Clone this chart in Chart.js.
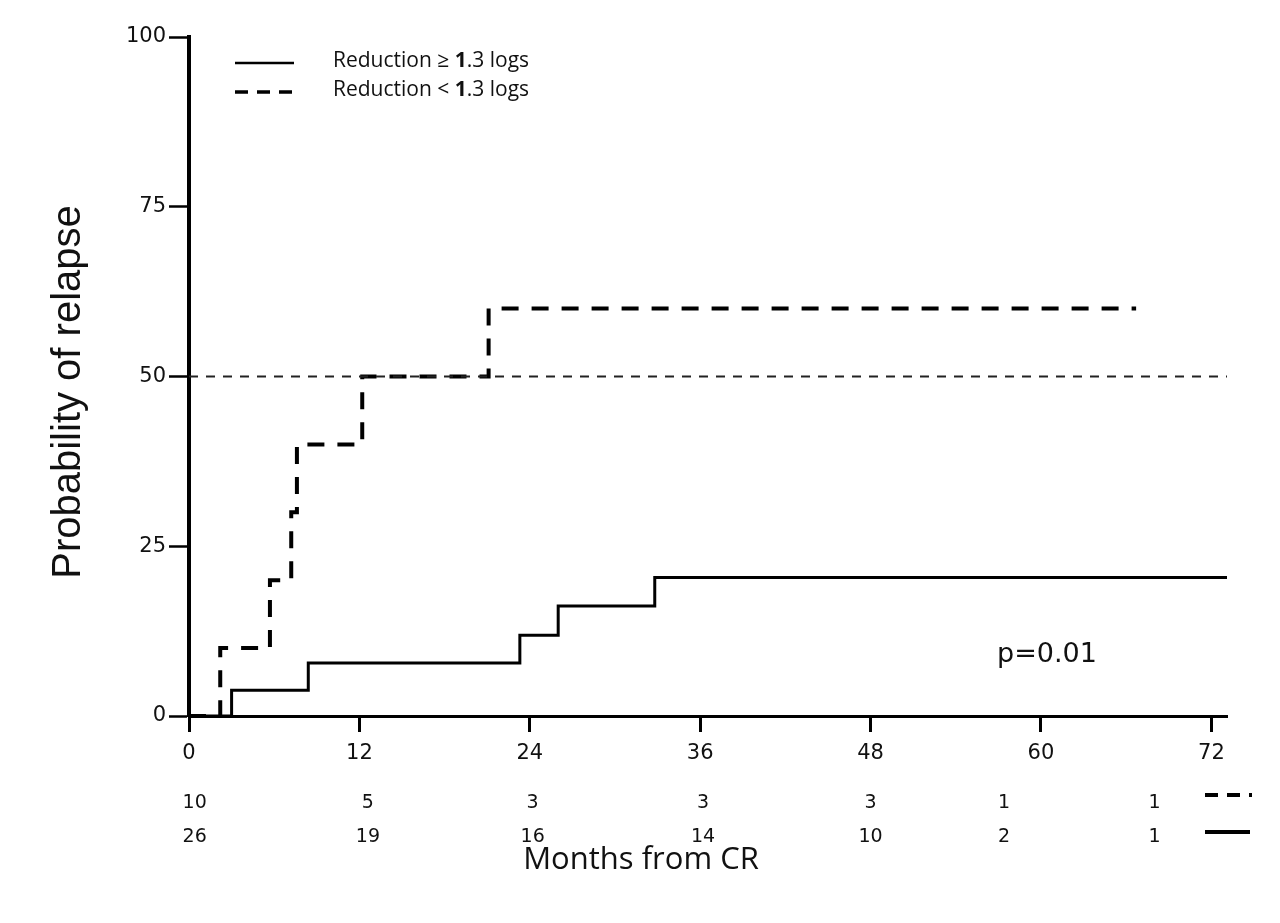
<!DOCTYPE html>
<html>
<head>
<meta charset="utf-8">
<script src="https://cdn.jsdelivr.net/npm/chart.js@4.4.1/dist/chart.umd.min.js"></script>
<style>
  body { margin: 0; background: #fff; }
  #kmChart { display: block; }
</style>
</head>
<body>
<canvas id="kmChart" width="1280" height="923"></canvas>
<script>
// months from CR / cumulative probability of relapse (%)
var dashedTimes = [0, 2.2, 5.7, 7.2, 7.6, 12.2, 21.1, 66.7];
var dashedProb  = [0, 10, 20, 30, 40, 50, 60, 60];
var solidTimes  = [0, 3.0, 8.4, 23.3, 26.0, 32.8, 73.1];
var solidProb   = [0, 3.8, 7.8, 11.9, 16.2, 20.4, 20.4];

var medianLine = [50, 50];
var medianTimes = [0, 73.1];

// legend text split so the "1" can be bold like the original
var seriesNames = [['Reduction \u2265 ', '1', '.3 logs'], ['Reduction < ', '1', '.3 logs']];

// number at risk
var riskDashed = [10, 5, 3, 3, 3, 1, 1];
var riskSolid  = [26, 19, 16, 14, 10, 2, 1];
var riskLabelMonths = [0.4, 12.6, 24.2, 36.2, 48.0, 57.4, 68.0];

var xTicks = [0, 12, 24, 36, 48, 60, 72];
var yTicks = [0, 25, 50, 75, 100];
var pText = 'p=0.01';

function toPoints(xs, ys) {
    var pts = [];
    for (var i = 0; i < xs.length; i++) {
        pts.push({x: xs[i], y: ys[i]});
    }
    return pts;
}

function legendText(ctx, parts, x, y) {
    var reg = '21px "Open Sans", sans-serif';
    var bold = 'bold 21px "Open Sans", sans-serif';
    for (var i = 0; i < parts.length; i++) {
        ctx.font = (i == 1) ? bold : reg;
        ctx.fillText(parts[i], x, y);
        x += ctx.measureText(parts[i]).width;
    }
}

var textPlugin = {
    id: 'kmText',
    afterDraw: function(chart) {
        var ctx = chart.ctx;
        var xs = chart.scales.x;
        ctx.save();
        ctx.fillStyle = '#111';
        ctx.strokeStyle = '#000';

        // y title
        ctx.save();
        ctx.translate(80, 392);
        ctx.rotate(-Math.PI / 2);
        ctx.font = '40px "Liberation Sans", Arial, sans-serif';
        ctx.textAlign = 'center';
        ctx.textBaseline = 'alphabetic';
        ctx.fillText('Probability of relapse', 0, 0);
        ctx.restore();

        // x title
        ctx.font = '31px "Open Sans", sans-serif';
        ctx.textAlign = 'center';
        ctx.textBaseline = 'alphabetic';
        ctx.fillText('Months from CR', 641, 869);

        // p value
        ctx.font = '27px "DejaVu Sans", sans-serif';
        ctx.textAlign = 'left';
        ctx.fillText(pText, 997, 662);

        // legend
        ctx.lineWidth = 2.5;
        ctx.setLineDash([]);
        ctx.beginPath();
        ctx.moveTo(235, 63);
        ctx.lineTo(294, 63);
        ctx.stroke();
        ctx.lineWidth = 3.5;
        ctx.setLineDash([13, 9]);
        ctx.beginPath();
        ctx.moveTo(235, 92);
        ctx.lineTo(294, 92);
        ctx.stroke();
        ctx.setLineDash([]);
        legendText(ctx, seriesNames[0], 333, 67);
        legendText(ctx, seriesNames[1], 333, 96);

        // number at risk table
        ctx.font = '19px "DejaVu Sans", sans-serif';
        ctx.textAlign = 'center';
        for (var i = 0; i < riskLabelMonths.length; i++) {
            var px = xs.getPixelForValue(riskLabelMonths[i]);
            ctx.fillText(String(riskDashed[i]), px, 808);
            ctx.fillText(String(riskSolid[i]), px, 842);
        }
        ctx.lineWidth = 4;
        ctx.setLineDash([13, 9]);
        ctx.beginPath();
        ctx.moveTo(1205, 795);
        ctx.lineTo(1252, 795);
        ctx.stroke();
        ctx.setLineDash([]);
        ctx.beginPath();
        ctx.moveTo(1205, 832);
        ctx.lineTo(1250, 832);
        ctx.stroke();

        ctx.restore();
    }
};

var tickFont = {family: '"DejaVu Sans", sans-serif', size: 21};

var ctx = document.getElementById('kmChart').getContext('2d');
var kmChart = new Chart(ctx, {
    type: 'scatter',
    data: {
        datasets: [{
            label: 'median',
            data: toPoints(medianTimes, medianLine),
            showLine: true,
            borderColor: '#222',
            borderWidth: 2,
            borderDash: [9, 8],
            pointRadius: 0
        }, {
            label: 'Reduction < 1.3 logs',
            data: toPoints(dashedTimes, dashedProb),
            showLine: true,
            stepped: true,
            borderColor: '#000',
            borderWidth: 4,
            borderDash: [17, 13],
            pointRadius: 0
        }, {
            label: 'Reduction \u2265 1.3 logs',
            data: toPoints(solidTimes, solidProb),
            showLine: true,
            stepped: true,
            borderColor: '#000',
            borderWidth: 3,
            pointRadius: 0
        }]
    },
    options: {
        responsive: false,
        animation: false,
        devicePixelRatio: 1,
        layout: {padding: {left: 0, top: 37, right: 53, bottom: 0}},
        plugins: {
            legend: {display: false},
            tooltip: {enabled: false}
        },
        scales: {
            x: {
                type: 'linear',
                min: 0,
                max: 73.1,
                afterFit: function(scale) { scale.height = 207; },
                afterBuildTicks: function(scale) {
                    scale.ticks = xTicks.map(function(v) { return {value: v}; });
                },
                border: {display: true, color: '#000', width: 3},
                grid: {display: true, drawOnChartArea: false, drawTicks: true,
                       tickLength: 16, tickWidth: 3, tickColor: '#000'},
                ticks: {font: tickFont, color: '#111', padding: 9, maxRotation: 0}
            },
            y: {
                min: 0,
                max: 100,
                afterFit: function(scale) { scale.width = 189; },
                afterBuildTicks: function(scale) {
                    scale.ticks = yTicks.map(function(v) { return {value: v}; });
                },
                border: {display: true, color: '#000', width: 4},
                grid: {display: true, drawOnChartArea: false, drawTicks: true,
                       tickLength: 20, tickWidth: 2.5, tickColor: '#000'},
                ticks: {font: tickFont, color: '#111', padding: 3}
            }
        }
    },
    plugins: [textPlugin]
});
</script>
</body>
</html>
